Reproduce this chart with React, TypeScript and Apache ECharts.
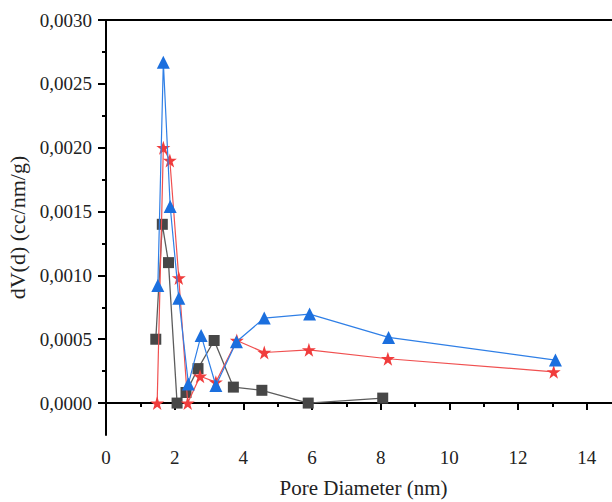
import React, { useEffect, useRef } from "react";
import * as echarts from "echarts";

// Pore diameter (nm) / dV(d) (cc/nm/g)
const blackX = [1.45, 1.64, 1.82, 2.07, 2.33, 2.68, 3.15, 3.71, 4.54, 5.89, 8.06];
const blackY = [0.0005, 0.0014, 0.0011, 0.0, 0.000083, 0.00027, 0.00049, 0.000125, 0.0001, 0.0, 0.000039];

const redX = [1.49, 1.67, 1.86, 2.12, 2.38, 2.74, 3.2, 3.81, 4.61, 5.91, 8.21, 13.04];
const redY = [0.0, 0.002, 0.0019, 0.00098, 0.0, 0.00021, 0.000164, 0.00049, 0.000396, 0.000417, 0.000347, 0.000245];

const blueX = [1.51, 1.67, 1.87, 2.12, 2.4, 2.77, 3.2, 3.8, 4.61, 5.93, 8.23, 13.09];
const blueY = [0.00092, 0.00267, 0.00154, 0.00082, 0.00015, 0.00053, 0.000138, 0.00048, 0.000666, 0.000697, 0.000514, 0.000337];

const yMajor = [0, 0.0005, 0.001, 0.0015, 0.002, 0.0025, 0.003];
const yMinor = [0.00025, 0.00075, 0.00125, 0.00175, 0.00225, 0.00275];
const xMajor = [0, 2, 4, 6, 8, 10, 12, 14];
const xMinor = [1, 3, 5, 7, 9, 11, 13];

const STAR =
  "path://M50,0 L61.2,34.5 L97.6,34.5 L68.2,55.9 L79.4,90.5 L50,69.1 L20.6,90.5 L31.8,55.9 L2.4,34.5 L38.8,34.5 Z";

const FONT = "Liberation Serif";

function zip(xs: number[], ys: number[]) {
  return xs.map((x, i) => [x, ys[i]]);
}

export default function App() {
  const ref = useRef<HTMLDivElement>(null);
  useEffect(() => {
    if (!ref.current) return;
    const chart = echarts.init(ref.current, null, { renderer: "svg" });
    const axisLine = { show: true, lineStyle: { color: "#000", width: 2 } };
    const labelStyle = { fontFamily: FONT, fontSize: 19, color: "#222" };
    chart.setOption({
      animation: false,
      backgroundColor: "#fff",
      textStyle: { fontFamily: FONT },
      grid: {
        left: 106,
        top: 20,
        width: 515,
        height: 415,
        containLabel: false,
        outerBoundsMode: "none",
      },
      xAxis: [
        {
          type: "value",
          min: 0,
          max: 15,
          interval: 1,
          position: "bottom",
          name: "Pore Diameter (nm)",
          nameLocation: "middle",
          nameGap: 42,
          nameTextStyle: { fontFamily: FONT, fontSize: 21, color: "#222" },
          axisLine,
          axisTick: { show: false },
          axisLabel: {
            show: true,
            margin: 13,
            showMaxLabel: false,
            ...labelStyle,
            formatter: (v: number) => (xMajor.indexOf(Math.round(v)) >= 0 ? String(Math.round(v)) : ""),
          },
          splitLine: { show: false },
        },
        {
          type: "value",
          min: 0,
          max: 15,
          position: "bottom",
          axisLine: { show: false },
          axisTick: { show: true, length: 7, lineStyle: { color: "#000", width: 2 }, customValues: xMajor },
          axisLabel: { show: false },
          splitLine: { show: false },
        },
        {
          type: "value",
          min: 0,
          max: 15,
          position: "bottom",
          axisLine: { show: false },
          axisTick: { show: true, length: 4, lineStyle: { color: "#000", width: 2 }, customValues: xMinor },
          axisLabel: { show: false },
          splitLine: { show: false },
        },
        {
          type: "value",
          min: 0,
          max: 15,
          position: "top",
          axisLine,
          axisTick: { show: false },
          axisLabel: { show: false },
          splitLine: { show: false },
        },
      ],
      yAxis: [
        {
          type: "value",
          min: -0.00025,
          max: 0.003,
          interval: 0.00025,
          position: "left",
          name: "dV(d) (cc/nm/g)",
          nameLocation: "middle",
          nameGap: 68,
          nameTextStyle: { fontFamily: FONT, fontSize: 22, color: "#222" },
          axisLine,
          axisTick: { show: false },
          axisLabel: {
            show: true,
            margin: 14,
            ...labelStyle,
            formatter: (v: number) => {
              const k = Math.round(v / 0.00025);
              if (k < 0 || k % 2 !== 0) return "";
              return (k * 0.00025).toFixed(4).replace(".", ",");
            },
          },
          splitLine: { show: false },
        },
        {
          type: "value",
          min: -0.00025,
          max: 0.003,
          position: "left",
          axisLine: { show: false },
          axisTick: { show: true, length: 8, lineStyle: { color: "#000", width: 2 }, customValues: yMajor },
          axisLabel: { show: false },
          splitLine: { show: false },
        },
        {
          type: "value",
          min: -0.00025,
          max: 0.003,
          position: "left",
          axisLine: { show: false },
          axisTick: { show: true, length: 4, lineStyle: { color: "#000", width: 2 }, customValues: yMinor },
          axisLabel: { show: false },
          splitLine: { show: false },
        },
      ],
      series: [
        {
          type: "line",
          data: zip(blackX, blackY),
          xAxisIndex: 0,
          yAxisIndex: 0,
          symbol: "rect",
          symbolSize: 11,
          itemStyle: { color: "#474747" },
          lineStyle: { color: "#5c5c5c", width: 1.3 },
          z: 2,
        },
        {
          type: "line",
          data: zip(redX, redY),
          xAxisIndex: 0,
          yAxisIndex: 0,
          symbol: STAR,
          symbolSize: 14,
          itemStyle: { color: "#f03c3c" },
          lineStyle: { color: "#f05050", width: 1.2 },
          z: 3,
        },
        {
          type: "line",
          data: zip(blueX, blueY),
          xAxisIndex: 0,
          yAxisIndex: 0,
          symbol: "triangle",
          symbolSize: 13,
          itemStyle: { color: "#1b6fde" },
          lineStyle: { color: "#2f7fe6", width: 1.2 },
          z: 4,
        },
      ],
    });
    return () => chart.dispose();
  }, []);
  return (
    <div
      ref={ref}
      style={{ position: "absolute", left: 0, top: 0, width: 612, height: 502, background: "#fff" }}
    />
  );
}
